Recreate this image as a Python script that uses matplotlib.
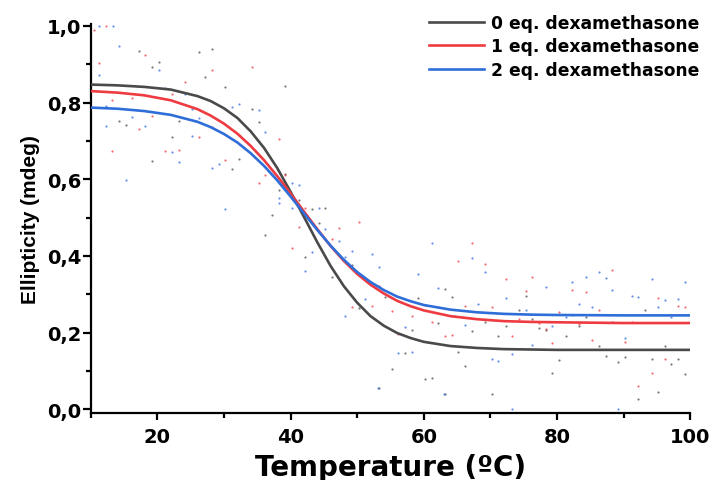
import matplotlib.pyplot as plt
from matplotlib.ticker import FuncFormatter, MultipleLocator

plt.rcParams["font.family"] = ["DejaVu Sans"]
plt.rcParams["font.weight"] = "bold"

# fitted curves
temp_fit = [10, 14, 18, 22, 26, 28, 30, 32, 34, 36, 38, 40, 42, 44, 46, 48, 50,
            52, 54, 56, 58, 60, 64, 68, 72, 76, 80, 90, 100]
fit_0eq = [0.847, 0.845, 0.841, 0.834, 0.817, 0.804, 0.785, 0.760, 0.725, 0.682,
           0.629, 0.567, 0.502, 0.436, 0.374, 0.321, 0.278, 0.243, 0.218, 0.199,
           0.186, 0.176, 0.165, 0.160, 0.157, 0.156, 0.155, 0.155, 0.155]
fit_1eq = [0.830, 0.826, 0.819, 0.806, 0.783, 0.766, 0.745, 0.719, 0.687, 0.650,
           0.608, 0.563, 0.516, 0.470, 0.426, 0.387, 0.353, 0.325, 0.302, 0.283,
           0.269, 0.258, 0.243, 0.235, 0.230, 0.228, 0.227, 0.225, 0.225]
fit_2eq = [0.787, 0.784, 0.778, 0.768, 0.750, 0.736, 0.718, 0.696, 0.668, 0.635,
           0.597, 0.555, 0.511, 0.468, 0.427, 0.390, 0.358, 0.332, 0.311, 0.294,
           0.282, 0.272, 0.260, 0.253, 0.249, 0.247, 0.246, 0.245, 0.245]

# measured points
t_0eq = [14.2, 15.2, 17.2, 19.2, 20.2, 19.2, 22.2, 23.2, 26.2, 27.2, 28.2, 30.2,
         31.2, 32.2, 34.2, 35.2, 39.2, 38.2, 36.2, 37.2, 39.2, 41.2, 43.2, 45.2,
         44.2, 42.2, 46.2, 49.2, 50.2, 54.2, 53.2, 55.2, 57.2, 58.2, 59.2, 60.2,
         61.2, 62.2, 63.2, 63.2, 64.2, 65.2, 66.2, 67.2, 69.2, 70.2, 71.2, 72.3,
         74.3, 75.3, 76.3, 77.3, 78.3, 79.3, 80.3, 81.3, 83.3, 84.3, 86.3, 87.3,
         88.2, 89.2, 90.2, 92.2, 93.2, 94.2, 95.2, 96.2, 97.2, 98.2, 99.2]
y_0eq = [0.752, 0.742, 0.934, 0.894, 0.905, 0.647, 0.710, 0.753, 0.933, 0.866,
         0.941, 0.840, 0.626, 0.652, 0.784, 0.750, 0.843, 0.571, 0.454, 0.508,
         0.615, 0.545, 0.522, 0.526, 0.487, 0.397, 0.344, 0.377, 0.263, 0.292,
         0.056, 0.104, 0.146, 0.208, 0.290, 0.078, 0.081, 0.225, 0.314, 0.039,
         0.293, 0.149, 0.113, 0.204, 0.228, 0.039, 0.190, 0.218, 0.260, 0.295,
         0.235, 0.212, 0.208, 0.095, 0.128, 0.190, 0.217, 0.240, 0.166, 0.139,
         0.228, 0.123, 0.137, 0.026, 0.260, 0.132, 0.046, 0.166, 0.118, 0.131,
         0.091]

t_1eq = [10.5, 11.2, 12.3, 13.2, 13.2, 16.2, 17.2, 18.2, 19.2, 21.2, 22.2, 23.2,
         24.2, 26.2, 28.2, 28.2, 30.2, 34.2, 35.2, 36.2, 38.2, 39.2, 40.2, 41.2,
         42.2, 46.2, 47.2, 49.2, 50.2, 52.2, 53.2, 55.2, 56.2, 58.2, 60.2, 61.2,
         62.2, 63.2, 64.2, 65.2, 66.2, 67.2, 69.2, 70.2, 72.3, 73.3, 74.3, 75.3,
         76.3, 77.3, 78.3, 79.3, 80.3, 82.3, 83.3, 84.3, 85.3, 86.3, 88.2, 90.2,
         91.2, 92.2, 94.2, 95.2, 96.2, 98.2, 99.2]
y_1eq = [0.990, 0.903, 1.000, 0.808, 0.675, 0.813, 0.730, 0.924, 0.766, 0.673,
         0.823, 0.677, 0.855, 0.710, 0.884, 0.737, 0.649, 0.894, 0.590, 0.612,
         0.706, 0.610, 0.422, 0.476, 0.526, 0.443, 0.474, 0.266, 0.489, 0.270,
         0.322, 0.256, 0.197, 0.243, 0.271, 0.227, 0.268, 0.192, 0.194, 0.388,
         0.270, 0.433, 0.379, 0.267, 0.340, 0.192, 0.235, 0.309, 0.346, 0.225,
         0.210, 0.173, 0.255, 0.311, 0.223, 0.306, 0.180, 0.260, 0.364, 0.176,
         0.227, 0.062, 0.095, 0.290, 0.132, 0.270, 0.266]

t_2eq = [11.2, 13.3, 14.2, 11.2, 12.2, 12.2, 15.2, 16.2, 18.2, 20.2, 21.2, 22.2,
         23.2, 24.2, 25.2, 25.2, 26.2, 28.2, 29.2, 30.2, 31.2, 32.2, 35.2, 36.2,
         38.2, 38.2, 40.2, 40.2, 41.2, 42.2, 43.2, 44.2, 45.2, 47.2, 48.2, 48.2,
         49.2, 51.2, 52.2, 53.2, 53.1, 56.2, 57.2, 58.2, 59.2, 61.2, 62.2, 63.1,
         66.2, 67.2, 68.2, 69.2, 70.2, 71.2, 72.3, 73.3, 73.2, 75.3, 76.3, 78.3,
         79.3, 81.3, 82.3, 82.3, 83.3, 84.3, 85.3, 86.3, 87.3, 88.2, 89.1, 90.2,
         91.2, 92.2, 94.2, 95.2, 96.2, 97.2, 98.2, 99.2]
y_2eq = [1.000, 1.000, 0.947, 0.872, 0.790, 0.739, 0.599, 0.763, 0.739, 0.885,
         0.837, 0.671, 0.646, 0.823, 0.784, 0.714, 0.760, 0.630, 0.641, 0.522,
         0.789, 0.797, 0.781, 0.724, 0.550, 0.539, 0.590, 0.526, 0.586, 0.361,
         0.411, 0.526, 0.470, 0.438, 0.397, 0.243, 0.413, 0.288, 0.404, 0.370,
         0.056, 0.147, 0.214, 0.150, 0.353, 0.433, 0.316, 0.039, 0.220, 0.395,
         0.275, 0.357, 0.130, 0.125, 0.290, 0.145, 0.000, 0.260, 0.169, 0.320,
         0.218, 0.240, 0.333, 0.247, 0.275, 0.346, 0.268, 0.358, 0.342, 0.310,
         0.000, 0.186, 0.296, 0.292, 0.340, 0.268, 0.285, 0.240, 0.288, 0.333]

labels = ["0 eq. dexamethasone", "1 eq. dexamethasone", "2 eq. dexamethasone"]
colors = ["#4a4a4a", "#ee3b41", "#2f6ed8"]

fig, ax = plt.subplots(figsize=(7.1, 4.81), dpi=100)
fig.subplots_adjust(left=0.128, right=0.972, bottom=0.139, top=0.948)

for t, y, c in zip([t_0eq, t_1eq, t_2eq], [y_0eq, y_1eq, y_2eq], colors):
    ax.scatter(t, y, s=2.5, color=c, alpha=0.75, linewidths=0, zorder=2)

for fit, c, lab in zip([fit_0eq, fit_1eq, fit_2eq], colors, labels):
    ax.plot(temp_fit, fit, color=c, lw=1.9, label=lab, zorder=3)

ax.set_xlim(10, 100)
ax.set_ylim(-0.01, 1.005)
ax.xaxis.set_major_locator(MultipleLocator(20))
ax.xaxis.set_minor_locator(MultipleLocator(10))
ax.yaxis.set_major_locator(MultipleLocator(0.2))
ax.yaxis.set_minor_locator(MultipleLocator(0.1))
ax.yaxis.set_major_formatter(FuncFormatter(lambda v, p: f"{v:.1f}".replace(".", ",")))

for side in ["top", "right"]:
    ax.spines[side].set_visible(False)
for side in ["left", "bottom"]:
    ax.spines[side].set_linewidth(1.6)

ax.tick_params(axis="y", which="major", direction="out", length=6, width=1.6,
               labelsize=14, pad=1)
ax.tick_params(axis="x", which="major", direction="out", length=5, width=1.6,
               labelsize=14, pad=5)
ax.tick_params(which="minor", direction="out", length=3.5, width=1.6)
for lbl in ax.get_xticklabels() + ax.get_yticklabels():
    lbl.set_fontweight("bold")

ax.set_xlabel("Temperature (ºC)", fontsize=20, fontweight="bold", labelpad=5)
ax.set_ylabel("Ellipticity (mdeg)", fontsize=15, fontweight="bold", labelpad=5,
              family=["Liberation Sans"])

ax.legend(loc="upper right", bbox_to_anchor=(0.995, 0.983),
          bbox_transform=fig.transFigure, frameon=False, borderaxespad=0,
          handlelength=3.2, handletextpad=0.45, labelspacing=0.32,
          prop={"weight": "bold", "size": 12.3})

plt.savefig("out.png", dpi=100)
